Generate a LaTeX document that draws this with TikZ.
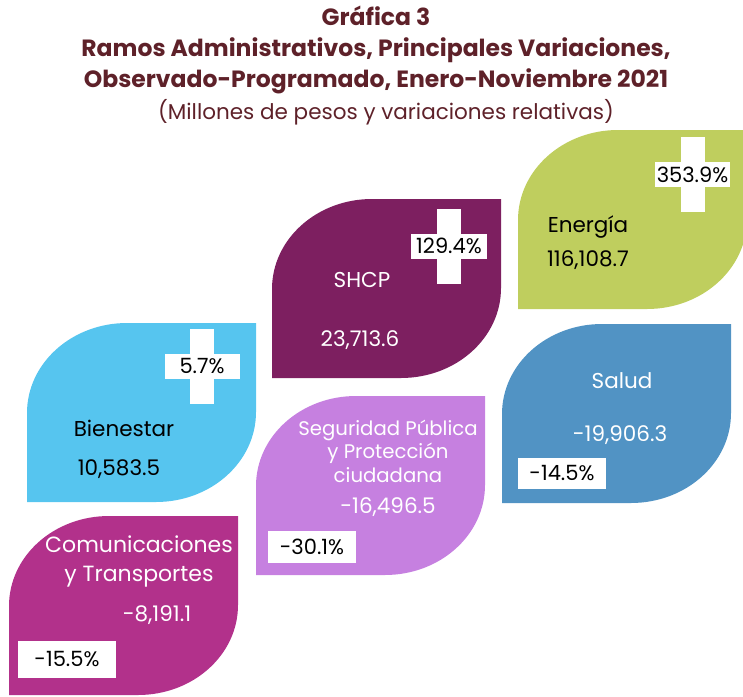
\documentclass[tikz,border=0pt]{standalone}
\usepackage{fontspec}
\setmainfont{Poppins}
\usepackage{tikz}

\definecolor{titlered}{HTML}{5E2129}
\definecolor{energia}{HTML}{BFCE5E}
\definecolor{shcp}{HTML}{7D1F60}
\definecolor{bienestar}{HTML}{56C5EF}
\definecolor{salud}{HTML}{5193C4}
\definecolor{seguridad}{HTML}{C680E0}
\definecolor{comunic}{HTML}{B2318B}

\begin{document}
\begin{tikzpicture}[x=1pt,y=-1pt]
\tikzset{leaf/.pic = {\path[pic actions] (0,90) .. controls (0,40) and (45,0) .. (100,0) -- (229,0) -- (229,89) .. controls (229,139) and (184,179) .. (129,179) -- (0,179) -- cycle;}}
\tikzset{txt/.style = {inner sep=0pt,font=\fontsize{21.5}{25}\selectfont,align=center}}
\tikzset{bar/.style = {fill=white,minimum width=24pt,minimum height=75pt,inner sep=0pt}}
\tikzset{pct/.style = {fill=white,text=black,inner sep=0pt,font=\fontsize{21}{24}\selectfont,minimum height=25pt}}
\useasboundingbox (0,0) rectangle (743,696);
% titles
\node[text=titlered,font=\bfseries\fontsize{23.5}{31}\selectfont,align=center] (title) at (376,50) {Gráfica 3\\Ramos Administrativos, Principales Variaciones,\\Observado-Programado, Enero-Noviembre 2021};
\node[text=titlered,font=\fontsize{21.5}{24}\selectfont] (sub) at (386,112) {(Millones de pesos y variaciones relativas)};
% leaves
\pic[fill=energia] (ene) at (518,130) {leaf};
\pic[fill=shcp] (hac) at (272,199) {leaf};
\pic[fill=bienestar] (bie) at (27,323) {leaf};
\pic[fill=salud] (sal) at (502,324) {leaf};
\pic[fill=seguridad] (seg) at (256,396) {leaf};
\pic[fill=comunic] (com) at (9,516) {leaf};
% crosses
\node[bar] (enebar) at (692.5,174.5) {};
\node[pct,minimum width=75pt] (enepct) at (692.5,174.5) {353.9\%};
\node[bar] (hacbar) at (449,246) {};
\node[pct,minimum width=76pt] (hacpct) at (449,246) {129.4\%};
\node[bar] (biebar) at (202,366) {};
\node[pct,minimum width=75pt] (biepct) at (202,366) {5.7\%};
% boxes
\node[pct,minimum width=88pt,minimum height=31pt] (salpct) at (562,473.5) {-14.5\%};
\node[pct,minimum width=88pt,minimum height=32pt] (segpct) at (312,547) {-30.1\%};
\node[pct,minimum width=98pt,minimum height=37pt] (compct) at (67,659.5) {-15.5\%};
% labels
\node[txt] (enename) at (588,227) {Energía};
\node[txt] (eneval) at (588,260) {116,108.7};
\node[txt,text=white] (hacname) at (362,280) {SHCP};
\node[txt,text=white] (hacval) at (360,340) {23,713.6};
\node[txt] (biename) at (124,428) {Bienestar};
\node[txt] (bieval) at (119,469) {10,583.5};
\node[txt,text=white] (salname) at (622,381) {Salud};
\node[txt,text=white] (salval) at (620,435) {-19,906.3};
\node[txt,text=white,font=\fontsize{19.7}{23.5}\selectfont] (segname) at (388,451) {Seguridad Pública\\y Protección\\ciudadana};
\node[txt,text=white] (segval) at (388,507) {-16,496.5};
\node[txt,text=white,font=\fontsize{22}{29}\selectfont] (comname) at (139,561.5) {Comunicaciones\\y Transportes};
\node[txt,text=white] (comval) at (157,615) {-8,191.1};
\end{tikzpicture}
\end{document}
